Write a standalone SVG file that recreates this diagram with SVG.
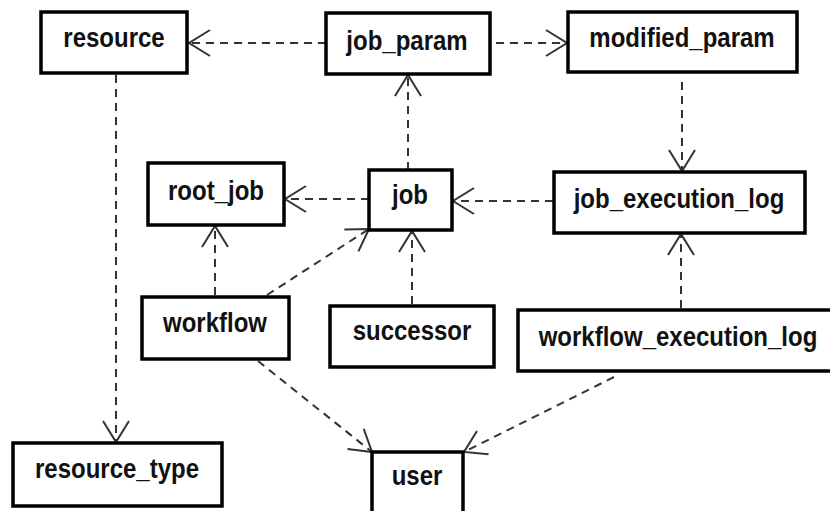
<svg xmlns="http://www.w3.org/2000/svg" width="830" height="511" viewBox="0 0 830 511">
  <style>
    .box { fill: #ffffff; stroke: #000000; stroke-width: 3.5; }
    .label { font-family: "Liberation Sans", Arial, sans-serif; font-weight: bold; font-size: 24px; fill: #111111; text-anchor: middle; }
    .dep { fill: none; stroke: #333333; stroke-width: 2; stroke-dasharray: 8 6; marker-end: url(#open); }
  </style>
  <defs>
    <!-- open "V" arrowhead for dependency lines -->
    <marker id="open" markerWidth="26" markerHeight="30" refX="22" refY="15" orient="auto" markerUnits="userSpaceOnUse">
      <path d="M1,2 L22,15 L1,28" fill="none" stroke="#333333" stroke-width="2" stroke-dasharray="none"/>
    </marker>
  </defs>
  <rect width="830" height="511" fill="#ffffff"/>

  <g id="connectors">
    <line class="dep" x1="326" y1="43" x2="189" y2="43"/>
    <line class="dep" x1="496" y1="43" x2="567" y2="43"/>
    <line class="dep" x1="682" y1="82" x2="682" y2="171"/>
    <line class="dep" x1="408" y1="170" x2="408" y2="75"/>
    <line class="dep" x1="369" y1="199" x2="285" y2="199"/>
    <line class="dep" x1="553" y1="201" x2="453" y2="201"/>
    <line class="dep" x1="681" y1="308" x2="681" y2="234"/>
    <line class="dep" x1="412" y1="304" x2="412" y2="231"/>
    <line class="dep" x1="215" y1="295" x2="215" y2="226"/>
    <line class="dep" x1="267" y1="295" x2="369" y2="229"/>
    <line class="dep" x1="258" y1="361" x2="372" y2="452"/>
    <line class="dep" x1="614" y1="377" x2="464" y2="452"/>
    <line class="dep" x1="116" y1="75" x2="116" y2="442"/>
  </g>

  <!-- labels are drawn at the origin, then moved to their baseline and stretched a little vertically -->
  <g id="resource">
    <rect class="box" x="41" y="12" width="146" height="61"/>
    <text class="label" transform="translate(114,47) scale(1,1.12)">resource</text>
  </g>
  <g id="job_param">
    <rect class="box" x="326" y="13" width="164" height="61"/>
    <text class="label" transform="translate(407,50) scale(1,1.12)">job_param</text>
  </g>
  <g id="modified_param">
    <rect class="box" x="568" y="12" width="229" height="60"/>
    <text class="label" transform="translate(682,47) scale(1,1.12)">modified_param</text>
  </g>
  <g id="root_job">
    <rect class="box" x="148" y="163" width="136" height="62"/>
    <text class="label" transform="translate(216,200) scale(1,1.12)">root_job</text>
  </g>
  <g id="job">
    <rect class="box" x="369" y="170" width="83" height="60"/>
    <text class="label" transform="translate(410,204) scale(1,1.12)">job</text>
  </g>
  <g id="job_execution_log">
    <rect class="box" x="554" y="172" width="251" height="61"/>
    <text class="label" transform="translate(679,208) scale(1,1.12)">job_execution_log</text>
  </g>
  <g id="workflow">
    <rect class="box" x="142" y="297" width="147" height="62"/>
    <text class="label" transform="translate(215,332) scale(1,1.12)">workflow</text>
  </g>
  <g id="successor">
    <rect class="box" x="330" y="306" width="164" height="61"/>
    <text class="label" transform="translate(412,340) scale(1,1.12)">successor</text>
  </g>
  <g id="workflow_execution_log">
    <rect class="box" x="518" y="310" width="321" height="61"/>
    <text class="label" transform="translate(678,346) scale(1,1.12)">workflow_execution_log</text>
  </g>
  <g id="resource_type">
    <rect class="box" x="13" y="443" width="209" height="63"/>
    <text class="label" transform="translate(117,478) scale(1,1.12)">resource_type</text>
  </g>
  <g id="user">
    <rect class="box" x="372" y="452" width="91" height="64"/>
    <text class="label" transform="translate(417,485) scale(1,1.12)">user</text>
  </g>
</svg>
